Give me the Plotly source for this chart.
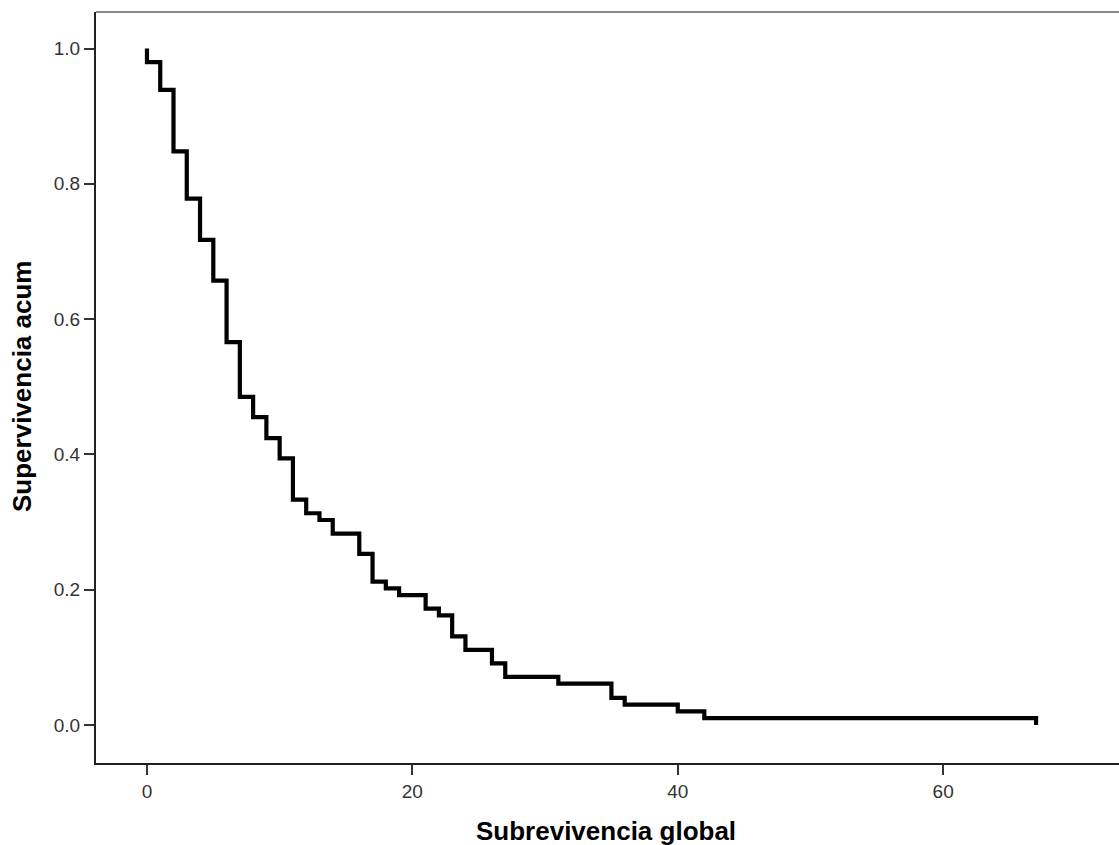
import plotly.graph_objects as go

# Kaplan-Meier step data
time_months = [0, 0, 1, 2, 3, 4, 5, 6, 7, 8, 9, 10, 11, 12, 13, 14, 16, 17, 18,
               19, 21, 22, 23, 24, 26, 27, 31, 35, 36, 40, 42, 67]
survival = [1.0, 0.980, 0.939, 0.848, 0.778, 0.717, 0.657, 0.566, 0.485, 0.455,
            0.424, 0.394, 0.333, 0.313, 0.303, 0.283, 0.253, 0.212, 0.202, 0.192,
            0.172, 0.162, 0.131, 0.111, 0.091, 0.071, 0.061, 0.040, 0.030, 0.020,
            0.010, 0.0]

x_ticks = [0, 20, 40, 60]
y_ticks = [0.0, 0.2, 0.4, 0.6, 0.8, 1.0]
x_title = "Subrevivencia global"
y_title = "Supervivencia acum"

W, H = 1119, 845
L, R, T, B = 96, 0, 12, 82
PW, PH = W - L - R, H - T - B

FONT = "Liberation Sans, Arial, sans-serif"

fig = go.Figure()
fig.add_trace(go.Scatter(
    x=time_months, y=survival, mode="lines",
    line=dict(shape="hv", color="#000000", width=4.2),
    hoverinfo="skip", showlegend=False,
))

fig.update_layout(
    width=W, height=H,
    margin=dict(l=L, r=R, t=T, b=B, pad=0),
    paper_bgcolor="white", plot_bgcolor="white",
    showlegend=False,
    xaxis=dict(
        range=[-3.84, 73.25], tickvals=x_ticks, ticktext=[str(v) for v in x_ticks],
        showgrid=False, zeroline=False, showline=True, linecolor="#222222", linewidth=2,
        ticks="outside", ticklen=10, tickwidth=2, tickcolor="#333333",
        tickfont=dict(family=FONT, size=19, color="#333333"),
        mirror=False,
    ),
    yaxis=dict(
        range=[-0.0562, 1.054], tickvals=y_ticks, ticktext=[f"{v:.1f}" for v in y_ticks],
        showgrid=False, zeroline=False, showline=True, linecolor="#222222", linewidth=2,
        ticks="outside", ticklen=10, tickwidth=2, tickcolor="#333333",
        tickfont=dict(family=FONT, size=19, color="#333333"),
        mirror=False,
    ),
    shapes=[dict(type="line", xref="paper", yref="paper", x0=0, x1=1.01, y0=1, y1=1,
                 line=dict(color="#8a8a8a", width=2))],
    annotations=[
        dict(text=f"<b>{x_title}</b>", xref="paper", yref="paper",
             x=(606 - L) / PW, y=-(831 - (T + PH)) / PH, xanchor="center", yanchor="middle",
             showarrow=False, font=dict(family=FONT, size=26, color="#000000")),
        dict(text=f"<b>{y_title}</b>", xref="paper", yref="paper",
             x=(22 - L) / PW, y=1 - (387 - T) / PH, xanchor="center", yanchor="middle",
             textangle=-90, showarrow=False, font=dict(family=FONT, size=26, color="#000000")),
    ],
)

fig.write_html("out.html")
